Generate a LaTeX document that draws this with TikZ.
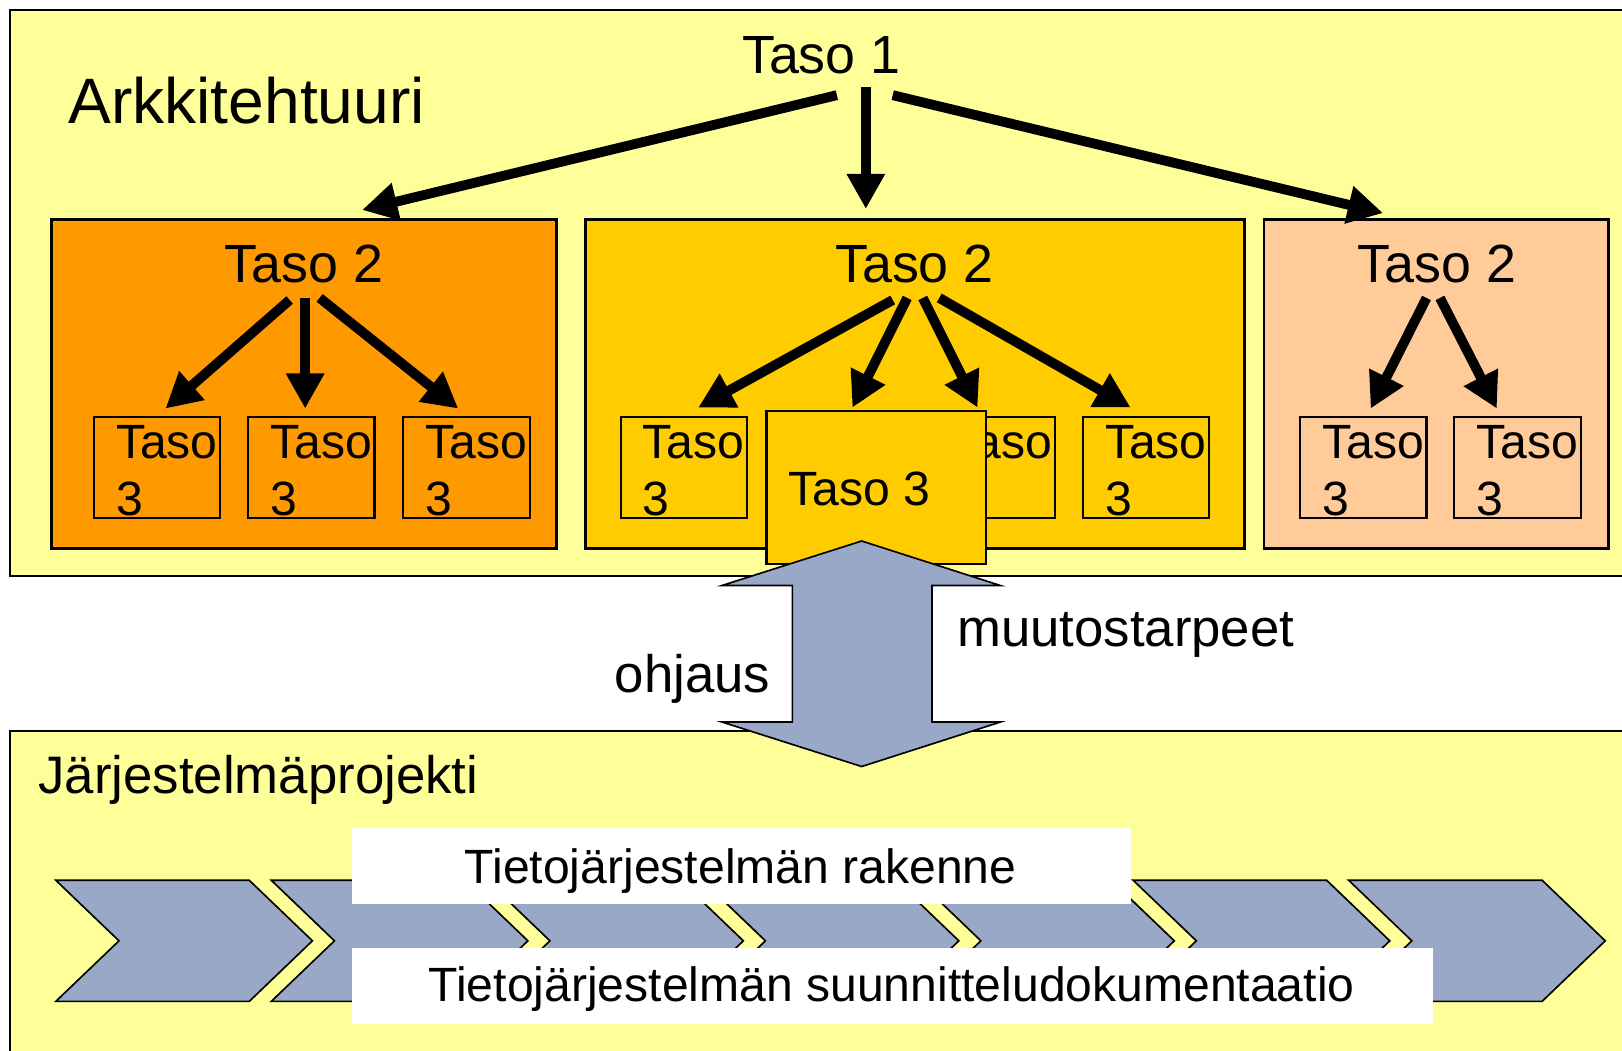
\documentclass[tikz,border=0pt]{standalone}
\usepackage{fontspec}
\setmainfont{Liberation Sans}
\usetikzlibrary{arrows.meta}
\definecolor{lyellow}{HTML}{FFFF99}
\definecolor{orangeA}{HTML}{FF9900}
\definecolor{goldB}{HTML}{FFCC00}
\definecolor{peachC}{HTML}{FFCC99}
\definecolor{slate}{RGB}{153,168,199}
\begin{document}
\begin{tikzpicture}[x=1pt,y=-1pt,
  panel/.style={draw=black, line width=2pt, fill=lyellow, anchor=north west, inner sep=0pt, outer sep=0pt},
  lvltwo/.style={draw=black, line width=2.5pt, anchor=north west, inner sep=0pt, outer sep=0pt, minimum height=318pt},
  smallbox/.style={draw=black, line width=2pt, anchor=north west, minimum width=122pt, minimum height=98pt, inner sep=0pt, outer sep=0pt},
  hugetext/.style={font=\fontsize{62}{74}\selectfont, inner sep=0pt},
  tasotext/.style={font=\fontsize{52}{62}\selectfont, inner sep=0pt},
  bigtext/.style={font=\fontsize{51}{61}\selectfont, inner sep=0pt},
  midtext/.style={font=\fontsize{46.5}{55}\selectfont, inner sep=0pt},
  arr/.style={line width=9.5pt, -{Triangle[length=34pt,width=35pt]}},
  flow/.style={draw=black, line width=1.6pt, fill=slate, line join=miter},
  whitelabel/.style={fill=white, anchor=north west, inner sep=0pt, outer sep=0pt},
]
\useasboundingbox (0,0) rectangle (1568,1016);
\clip (0,0) rectangle (1568,1016);
\fill[white] (0,0) rectangle (1568,1016);

% main panels
\node[panel, minimum width=1600pt, minimum height=547pt] (arch) at (10,10) {};
\node[panel, minimum width=1600pt, minimum height=400pt] (proj) at (10,707) {};

% level 2 boxes
\node[lvltwo, fill=orangeA, minimum width=488pt] (l2a) at (50,212) {};
\node[lvltwo, fill=goldB, minimum width=637pt] (l2b) at (566,212) {};
\node[lvltwo, fill=peachC, minimum width=333pt] (l2c) at (1222,212) {};

% level 3 boxes (fully visible ones)
\foreach \n/\x in {a1/91,a2/240,a3/390,b1/600,b4/1047,c1/1257,c2/1406} {
  \node[smallbox] (\n) at (\x,403) {};
  \node[midtext, anchor=base west] (\n-l1) at (\x+21,443) {Taso};
  \node[midtext, anchor=base west] (\n-l2) at (\x+21,498) {3};
}
% level 3 boxes partly hidden behind the large box
\node[smallbox] (b2) at (749,403) {};
\node[smallbox] (b3) at (898,403) {};
\node[midtext, anchor=base west] (b3-l1) at (919,443) {Taso};

% texts
\node[hugetext, anchor=base west] (archlbl) at (66,119) {Arkkitehtuuri};
\node[tasotext, anchor=base] (taso1) at (794,71) {Taso 1};
\node[tasotext, anchor=base] (t2a) at (294,273) {Taso 2};
\node[tasotext, anchor=base] (t2b) at (884,273) {Taso 2};
\node[tasotext, anchor=base] (t2c) at (1389,273) {Taso 2};

% arrows
\foreach \n/\sx/\sy/\tx/\ty in {
  t1l/809/92/350/203, t1m/837/84/837/202, t1r/863/92/1337/206,
  oa/280/290/160/395, ob/295/288/295/395, oc/309/288/443/395,
  ma/863/290/675/394, mb/877/288/824/394, mc/892/288/945/394, md/908/288/1093/394,
  ra/1379/288/1325/395, rb/1392/288/1447/395} {
  \coordinate (\n-s) at (\sx,\sy);
  \coordinate (\n-e) at (\tx,\ty);
  \draw[arr] (\n-s) -- (\n-e);
}

% big Taso 3 box
\node[draw=black, line width=2pt, fill=goldB, anchor=north west, minimum width=212pt, minimum height=148pt, inner sep=0pt, outer sep=0pt] (big3) at (741,397) {};
\node[midtext, anchor=base west] (big3lbl) at (762,489) {Taso 3};

% double arrow
\draw[flow] (833,523) -- (967,566) -- (901,566) -- (901,698) -- (967,698) -- (833,741)
  -- (698,698) -- (766,698) -- (766,566) -- (698,566) -- cycle;

\node[bigtext, anchor=base west] (ohj) at (594,669) {ohjaus};
\node[bigtext, anchor=base west] (muu) at (925,625) {muutostarpeet};
\node[bigtext, anchor=base west] (projlbl) at (37,767) {Järjestelmäprojekti};

% chevrons
\foreach \i in {0,...,6} {
  \pgfmathsetmacro\L{54+208.3*\i}
  \draw[flow] (\L,851) -- ++(187,0) -- ++(61,58.5) -- ++(-61,58.5) -- ++(-187,0) -- ++(61,-58.5) -- cycle;
}

% white labels
\node[whitelabel, minimum width=753pt, minimum height=74pt] (wl1) at (340,800) {};
\node[midtext, anchor=base] (wl1t) at (716,854) {Tietojärjestelmän rakenne};
\node[whitelabel, minimum width=1045pt, minimum height=74pt] (wl2) at (340,916) {};
\node[midtext, anchor=base] (wl2t) at (862,968) {Tietojärjestelmän suunnitteludokumentaatio};
\end{tikzpicture}
\end{document}
